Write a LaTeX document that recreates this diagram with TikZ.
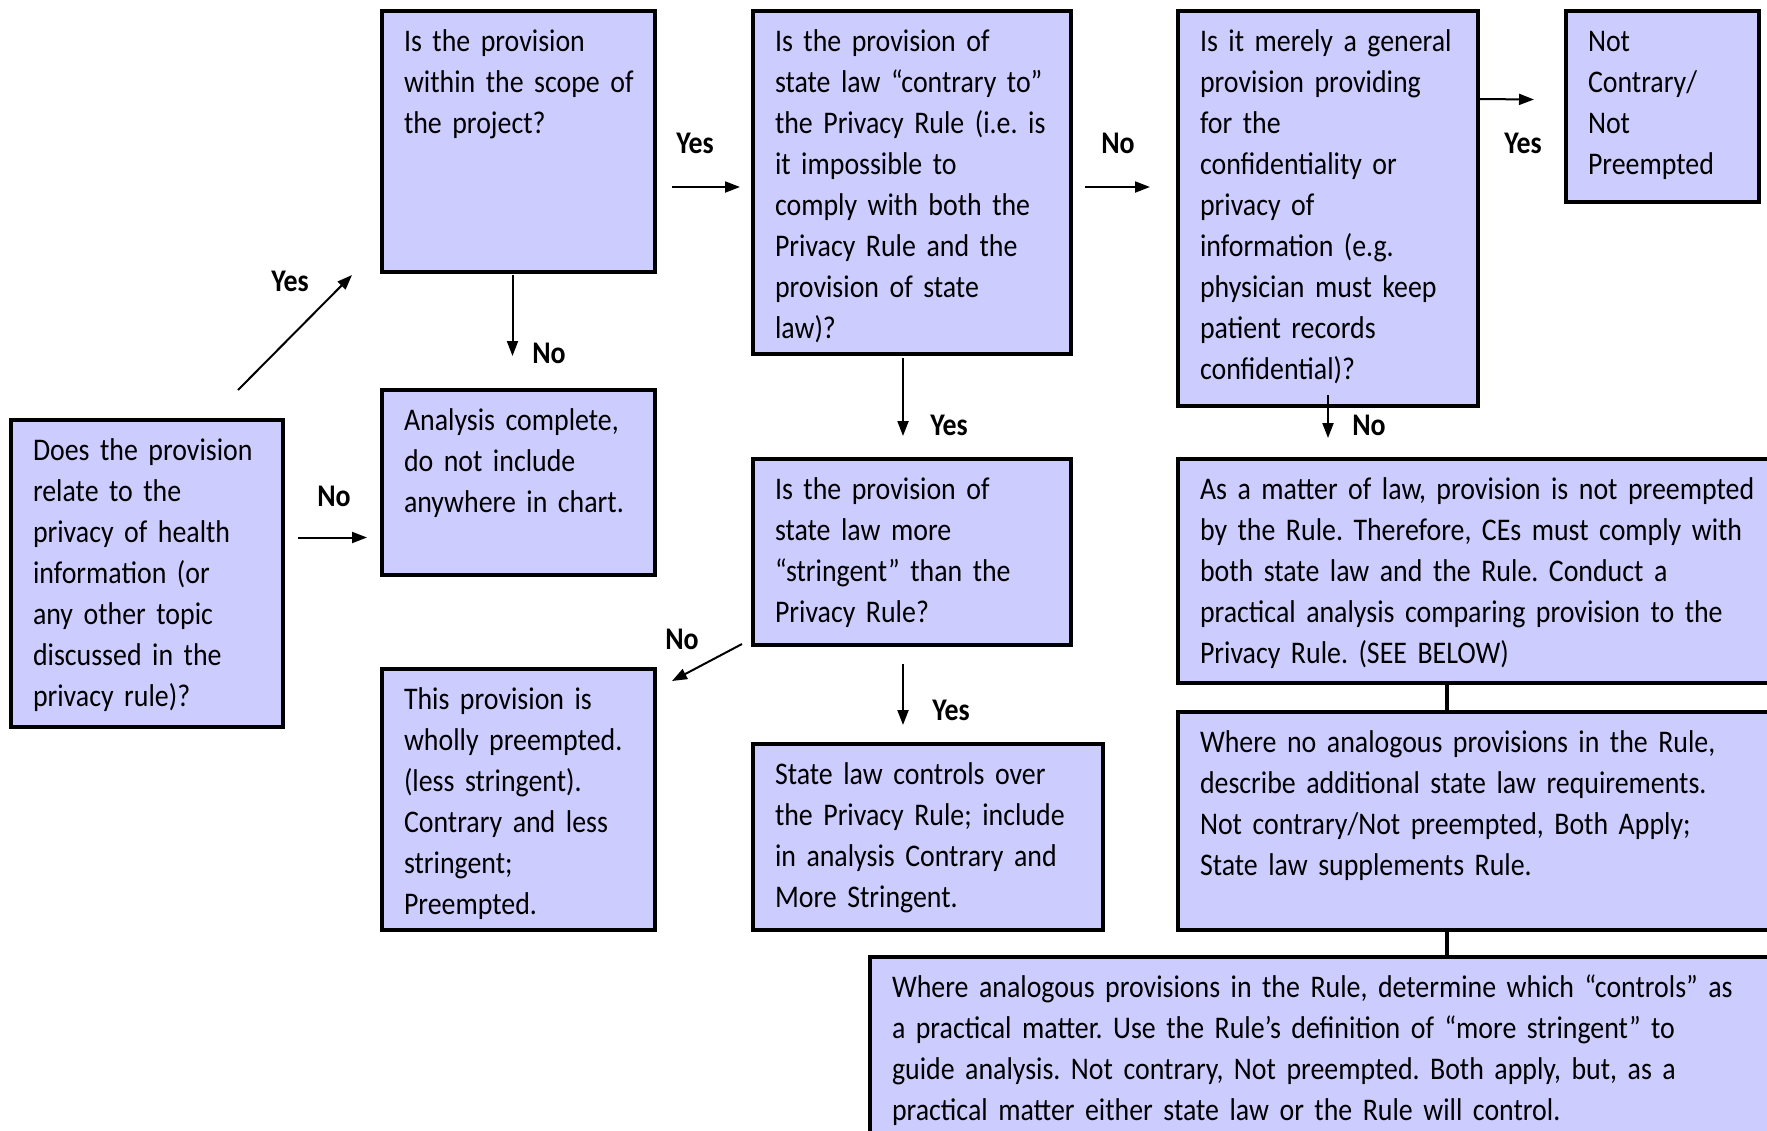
\documentclass[tikz,border=0pt]{standalone}
\usepackage{fontspec}
\setmainfont{Carlito}[FakeStretch=0.885]
\usepackage{xcolor}
\usetikzlibrary{calc, arrows.meta}
\definecolor{boxblue}{HTML}{CCCCFF}
\newcommand{\boxrows}[1]{\begin{tabular}[t]{@{}l@{}}#1\end{tabular}}
\frenchspacing

\begin{document}
\begin{tikzpicture}[x=1pt, y=-1pt]
    \tikzset{qbox/.style 2 args={draw, line width=4pt, fill=boxblue, anchor=north west, outer sep=0pt,
        inner xsep=22pt, inner ysep=0pt, text width=#1, text height=40pt, text depth=#2,
        font=\fontsize{31.5}{41}\selectfont}}
    \tikzset{answer/.style={inner sep=0pt, font=\fontsize{31.5}{41}\selectfont\bfseries}}
    \tikzset{link/.style={line width=2pt, -{Triangle[length=15pt, width=11pt]}}}
    \tikzset{joint/.style={line width=4pt}}
    \useasboundingbox (0, 0) rectangle (1767, 1130);
    \clip (0, 0) rectangle (1767, 1130);
    \node[qbox={228pt}{267pt}] (relate) at (11, 420) {\boxrows{Does the provision\\ relate to the\\ privacy of health\\
        information (or\\ any other topic\\ discussed in the\\ privacy rule)?}};
    \node[qbox={229pt}{221pt}] (scope) at (382, 11) {\boxrows{Is the provision\\ within the scope of\\ the project?}};
    \node[qbox={229pt}{145pt}] (complete) at (382, 390) {\boxrows{Analysis complete,\\ do not include\\ anywhere in chart.}};
    \node[qbox={274pt}{303pt}] (contrary) at (753, 11) {\boxrows{Is the provision of\\ state law “contrary to”\\
        the Privacy Rule (i.e. is\\ it impossible to\\ comply with both the\\ Privacy Rule and the\\ provision of state\\ law)?}};
    \node[qbox={274pt}{146pt}] (stringent) at (753, 459) {\boxrows{Is the provision of\\ state law more\\
        “stringent” than the\\ Privacy Rule?}};
    \node[qbox={229pt}{221pt}] (preempted) at (382, 669) {\boxrows{This provision is\\ wholly preempted.\\
        (less stringent).\\ Contrary and less\\ stringent;\\ Preempted.}};
    \node[qbox={306pt}{146pt}] (controls) at (753, 744) {\boxrows{State law controls over\\ the Privacy Rule; include\\
        in analysis Contrary and\\ More Stringent.}};
    \node[qbox={256pt}{355pt}] (general) at (1178, 11) {\boxrows{Is it merely a general\\ provision providing\\ for the\\
        confidentiality or\\ privacy of\\ information (e.g.\\ physician must keep\\ patient records\\ confidential)?}};
    \node[qbox={149pt}{151pt}] (notcontrary) at (1566, 11) {\boxrows{Not\\ Contrary/\\ Not\\ Preempted}};
    \node[qbox={568pt}{184pt}] (matter) at (1178, 459) {\boxrows{As a matter of law, provision is not preempted\\
        by the Rule. Therefore, CEs must comply with\\ both state law and the Rule. Conduct a\\
        practical analysis comparing provision to the\\ Privacy Rule. (SEE BELOW)}};
    \node[qbox={568pt}{178pt}] (noanalog) at (1178, 712) {\boxrows{Where no analogous provisions in the Rule,\\
        describe additional state law requirements.\\ Not contrary/Not preempted, Both Apply;\\ State law supplements Rule.}};
    \node[qbox={876pt}{163pt}] (analog) at (870, 957) {\boxrows{Where analogous provisions in the Rule, determine which “controls” as\\
        a practical matter. Use the Rule’s definition of “more stringent” to\\
        guide analysis. Not contrary, Not preempted. Both apply, but, as a\\
        practical matter either state law or the Rule will control.}};
    \draw[link] ($(relate.north)+(91, -30)$) -- ($(scope.south west)+(-30, 3)$);
    \draw[link] ($(relate.east)+(15, -36)$) -- ($(complete.west)+(-15, 55)$);
    \draw[link] ($(scope.south)+(-6, 3)$) -- ($(complete.north)+(-6, -34)$);
    \draw[link] ($(scope.east)+(17, 45.5)$) -- ($(contrary.west)+(-13, 4.5)$);
    \draw[link] ($(contrary.south)+(-9, 4)$) -- ($(stringent.north)+(-9, -23)$);
    \draw[link] ($(contrary.east)+(14, 4.5)$) -- ($(general.west)+(-28, -21.5)$);
    \draw[link] ($(general.north east)+(0, 88)$) -- ($(notcontrary.west)+(-32, -7)$);
    \draw[link] ($(general.south)+(0, -11)$) -- ($(matter.north west)+(150, -21)$);
    \draw[link] ($(stringent.south west)+(-11, -1)$) -- ($(preempted.north east)+(17, 12)$);
    \draw[link] ($(stringent.south)+(-9, 19)$) -- ($(controls.north)+(-25, -19)$);
    \draw[joint] ($(matter.south west)+(269, 0)$) -- ($(noanalog.north west)+(269, 0)$);
    \draw[joint] ($(noanalog.south west)+(269, 0)$) -- ($(analog.north west)+(577, 0)$);
    \node[answer] (yesScope) at (290, 281) {Yes};
    \node[answer] (noRelate) at (334, 496) {No};
    \node[answer] (noScope) at (549, 353) {No};
    \node[answer] (yesContrary) at (695, 143) {Yes};
    \node[answer] (yesStringent) at (949, 425) {Yes};
    \node[answer] (noGeneral) at (1118, 143) {No};
    \node[answer] (yesGeneral) at (1523, 143) {Yes};
    \node[answer] (noMatter) at (1369, 425) {No};
    \node[answer] (noPreempted) at (682, 639) {No};
    \node[answer] (yesControls) at (951, 710) {Yes};
\end{tikzpicture}
\end{document}
